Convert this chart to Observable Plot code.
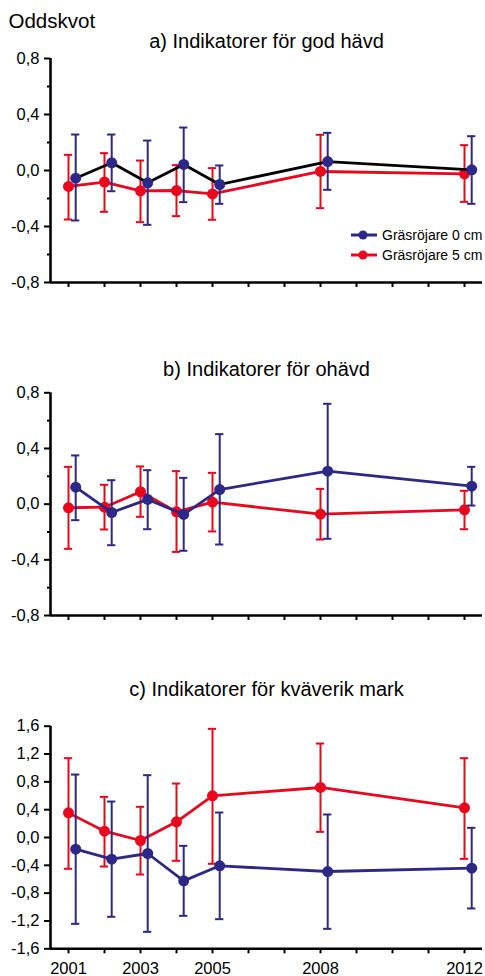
<!DOCTYPE html>
<html>
<head>
<meta charset="utf-8">
<script src="https://cdn.jsdelivr.net/npm/d3@7"></script>
<script src="https://cdn.jsdelivr.net/npm/@observablehq/plot@0.6"></script>
<style>
  html, body { margin: 0; padding: 0; background: #fff; }
  #root { position: relative; width: 485px; height: 976px; overflow: hidden; background: #fff;
          font-family: "Liberation Sans", Arial, sans-serif; }
  #root svg.plot { position: absolute; left: 0; }
  .legend { position: absolute; left: 351px; top: 225px; font-size: 14px; color: #000; }
  .legend .row { display: flex; align-items: center; height: 20.3px; }
  .legend .row span { margin-left: 5px; }
</style>
</head>
<body>
<div id="root"></div>
<script>
// ---------- data ----------
const years = [2001, 2002, 2003, 2004, 2005, 2008, 2012];
const xTickYears = [2001, 2002, 2003, 2004, 2005, 2006, 2007, 2008, 2009, 2010, 2011, 2012];
const xLabelYears = [2001, 2003, 2005, 2008, 2012];
const seriesNames = ["Gräsröjare 0 cm", "Gräsröjare 5 cm"];
const panelTitles = ["a) Indikatorer för god hävd", "b) Indikatorer för ohävd", "c) Indikatorer för kväverik mark"];
const yAxisTitle = "Oddskvot";

const ticksAB = [-0.8, -0.4, 0, 0.4, 0.8];
const minorAB = [-0.6, -0.2, 0.2, 0.6];
const ticksC = [-1.6, -1.2, -0.8, -0.4, 0, 0.4, 0.8, 1.2, 1.6];

// a) god hävd
const aBlueVal = [-0.055, 0.055, -0.088, 0.043, -0.100, 0.064, 0.005];
const aBlueLo  = [-0.357, -0.148, -0.388, -0.226, -0.238, -0.138, -0.238];
const aBlueHi  = [0.257, 0.257, 0.214, 0.307, 0.036, 0.269, 0.245];
const aRedVal  = [-0.114, -0.083, -0.145, -0.143, -0.167, -0.007, -0.024];
const aRedLo   = [-0.350, -0.295, -0.369, -0.326, -0.352, -0.269, -0.224];
const aRedHi   = [0.112, 0.124, 0.071, 0.038, 0.017, 0.255, 0.181];

// b) ohävd
const bBlueVal = [0.122, -0.060, 0.034, -0.074, 0.105, 0.237, 0.129];
const bBlueLo  = [-0.115, -0.295, -0.180, -0.335, -0.290, -0.249, -0.010];
const bBlueHi  = [0.350, 0.172, 0.244, 0.189, 0.503, 0.721, 0.268];
const bRedVal  = [-0.026, -0.022, 0.089, -0.055, 0.014, -0.072, -0.041];
const bRedLo   = [-0.321, -0.182, -0.091, -0.343, -0.196, -0.254, -0.180];
const bRedHi   = [0.268, 0.139, 0.271, 0.237, 0.225, 0.110, 0.096];

// c) kväverik mark
const cBlueVal = [-0.168, -0.311, -0.230, -0.623, -0.407, -0.489, -0.441];
const cBlueLo  = [-1.241, -1.140, -1.356, -1.126, -1.174, -1.313, -1.020];
const cBlueHi  = [0.905, 0.517, 0.896, -0.120, 0.359, 0.331, 0.139];
const cRedVal  = [0.354, 0.091, -0.043, 0.225, 0.599, 0.719, 0.426];
const cRedLo   = [-0.450, -0.417, -0.532, -0.335, -0.378, 0.081, -0.307];
const cRedHi   = [1.140, 0.584, 0.441, 0.776, 1.562, 1.351, 1.140];

// ---------- styling ----------
const FONT = "'Liberation Sans', Arial, sans-serif";
const NAVY = "#2c2888";
const RED = "#e8071c";
const BLUE_OFFSET = 0.2;   // 0 cm series drawn slightly to the right
const CAP = 0.115;         // half width of error-bar caps (years)

const fmt = d => d.toFixed(1).replace(".", ",");

function rowsOf(val, lo, hi, offset) {
  return years.map((yr, i) => ({x: yr + offset, v: val[i], lo: lo[i], hi: hi[i]}));
}

function seriesMarks(rows, color, lineColor) {
  return [
    Plot.line(rows, {x: "x", y: "v", stroke: lineColor, strokeWidth: 2.8}),
    Plot.ruleX(rows, {x: "x", y1: "lo", y2: "hi", stroke: color, strokeWidth: 2}),
    Plot.ruleY(rows, {y: "hi", x1: d => d.x - CAP, x2: d => d.x + CAP, stroke: color, strokeWidth: 2}),
    Plot.ruleY(rows, {y: "lo", x1: d => d.x - CAP, x2: d => d.x + CAP, stroke: color, strokeWidth: 2}),
    Plot.dot(rows, {x: "x", y: "v", r: 5.5, fill: color, stroke: "none"})
  ];
}

function panel(o) {
  const blue = rowsOf(o.blue[0], o.blue[1], o.blue[2], BLUE_OFFSET);
  const red = rowsOf(o.red[0], o.red[1], o.red[2], 0);
  const marks = [
    Plot.axisY({ticks: o.yTicks, tickSize: 6, tickPadding: 5, tickFormat: fmt, strokeWidth: 2, fontSize: 16.5, label: null}),
    o.minor ? Plot.axisY({ticks: o.minor, tickSize: 3, text: null, strokeWidth: 2, label: null}) : null,
    Plot.axisX({ticks: xTickYears, tickSize: 5, tickPadding: 8, strokeWidth: 2, fontSize: 16.5, label: null,
      tickFormat: d => (o.xLabels && xLabelYears.includes(d)) ? String(d) : ""}),
    Plot.ruleX([2000.5], {strokeWidth: 2.6, stroke: "black"}),
    Plot.ruleY([o.yDomain[0]], {strokeWidth: 2.6, stroke: "black"}),
    Plot.text([o.title], {text: d => d, frameAnchor: "top", lineAnchor: "bottom", dy: o.titleDy, fontSize: 20, fill: "black"}),
    o.yTitle ? Plot.text([o.yTitle], {text: d => d, frameAnchor: "top-left", textAnchor: "start", lineAnchor: "bottom",
      dx: -42, dy: o.yTitleDy, fontSize: 20.5, fill: "black"}) : null,
    ...seriesMarks(red, RED, RED),
    ...seriesMarks(blue, NAVY, o.blueLine)
  ];
  const svg = Plot.plot({
    width: 485, height: o.height,
    marginLeft: 50, marginRight: 3, marginTop: o.mt, marginBottom: o.mb,
    x: {domain: [2000.5, 2012.5], label: null},
    y: {domain: o.yDomain, label: null},
    style: {fontFamily: FONT, fontSize: "16px", color: "black", background: "transparent", overflow: "visible"},
    marks
  });
  svg.style.top = o.top + "px";
  return svg;
}

const root = document.getElementById("root");

root.appendChild(panel({
  top: 0, height: 300, mt: 58, mb: 18, yDomain: [-0.8, 0.8], yTicks: ticksAB, minor: minorAB,
  title: panelTitles[0], titleDy: -10.5, yTitle: yAxisTitle, yTitleDy: -31,
  blue: [aBlueVal, aBlueLo, aBlueHi], red: [aRedVal, aRedLo, aRedHi], blueLine: "black", xLabels: false
}));
root.appendChild(panel({
  top: 300, height: 330, mt: 92.3, mb: 15, yDomain: [-0.8, 0.8], yTicks: ticksAB, minor: minorAB,
  title: panelTitles[1], titleDy: -17.3,
  blue: [bBlueVal, bBlueLo, bBlueHi], red: [bRedVal, bRedLo, bRedHi], blueLine: NAVY, xLabels: false
}));
root.appendChild(panel({
  top: 630, height: 346, mt: 95.7, mb: 27.7, yDomain: [-1.6, 1.6], yTicks: ticksC, minor: null,
  title: panelTitles[2], titleDy: -30,
  blue: [cBlueVal, cBlueLo, cBlueHi], red: [cRedVal, cRedLo, cRedHi], blueLine: NAVY, xLabels: true
}));

// legend (panel a)
const legend = document.createElement("div");
legend.className = "legend";
[[seriesNames[0], NAVY], [seriesNames[1], RED]].forEach(([name, color]) => {
  const row = document.createElement("div");
  row.className = "row";
  const sw = d3.create("svg").attr("width", 26).attr("height", 12);
  sw.append("line").attr("x1", 0).attr("x2", 26).attr("y1", 6).attr("y2", 6)
    .attr("stroke", color).attr("stroke-width", 3);
  sw.append("circle").attr("cx", 12).attr("cy", 6).attr("r", 4.5).attr("fill", color);
  row.appendChild(sw.node());
  const t = document.createElement("span");
  t.textContent = name;
  row.appendChild(t);
  legend.appendChild(row);
});
root.appendChild(legend);
</script>
</body>
</html>
